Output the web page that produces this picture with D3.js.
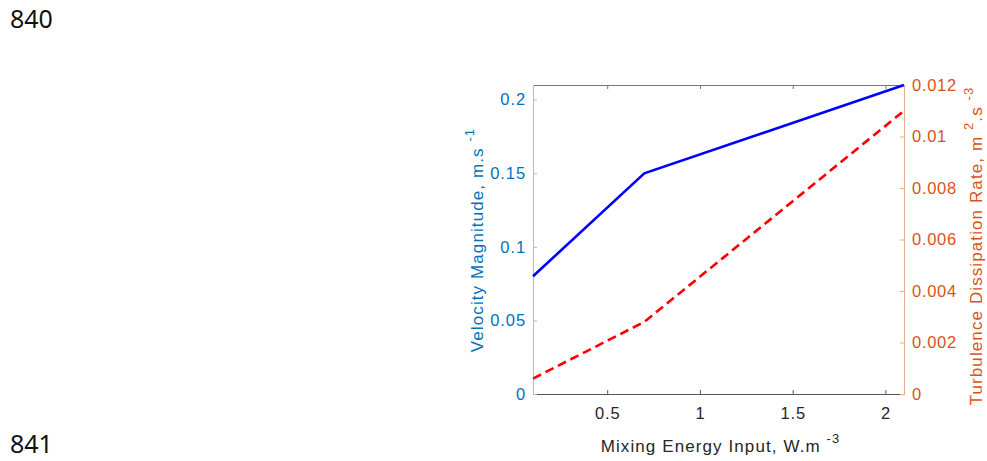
<!DOCTYPE html>
<html>
<head>
    <title></title>
    <meta charset="utf-8">
    <style>
        body { margin: 0; background: #fff; }
        text { font-family: Arial, 'Liberation Sans', sans-serif; }
    </style>
</head>
<body>
<script src="https://d3js.org/d3.v7.min.js"></script>
<script>
    // values
    var energy = [0.1, 0.7, 2.1];
    var velocity = [0.08, 0.15, 0.21];
    var dissipation = [0.0006, 0.0028, 0.011];

    var xTicks = [0.5, 1, 1.5, 2];
    var leftTicks = [0, 0.05, 0.1, 0.15, 0.2];
    var rightTicks = [0, 0.002, 0.004, 0.006, 0.008, 0.01, 0.012];
    var pageNumbers = ['840', '841'];

    var W = 987, H = 461;
    var box = { left: 533, right: 904, top: 85, bottom: 394 };

    var blue = '#0072BD', orange = '#D95319';

    var svg = d3.select('body').append('svg')
        .attr('width', W)
        .attr('height', H);

    var x = d3.scaleLinear().domain([0.1, 2.1]).range([box.left, box.right]);
    var yL = d3.scaleLinear().domain([0, 0.21]).range([box.bottom, box.top]);
    var yR = d3.scaleLinear().domain([0, 0.012]).range([box.bottom, box.top]);

    // page line numbers
    svg.append('text')
        .attr('x', 10).attr('y', 28)
        .style('font-family', "'Noto Sans', sans-serif")
        .style('font-size', '25px')
        .attr('fill', '#111')
        .text(pageNumbers[0]);
    svg.append('text')
        .attr('x', 10).attr('y', 453)
        .style('font-family', "'Noto Sans', sans-serif")
        .style('font-size', '25px')
        .attr('fill', '#111')
        .text(pageNumbers[1]);

    // axes
    var fmt = function (d) { return String(d); };

    var gx = svg.append('g')
        .attr('transform', 'translate(0,' + box.bottom + ')')
        .call(d3.axisBottom(x).tickValues(xTicks).tickFormat(fmt).tickSizeInner(-4).tickSizeOuter(0).tickPadding(13));
    gx.select('.domain').attr('stroke', '#555');
    gx.selectAll('.tick line').attr('stroke', '#555');
    gx.selectAll('.tick text').attr('fill', '#262626')
        .style('font-size', '16.5px').style('letter-spacing', '0.9px');

    var gtop = svg.append('g')
        .attr('transform', 'translate(0,' + box.top + ')')
        .call(d3.axisTop(x).tickValues(xTicks).tickFormat('').tickSizeInner(-4).tickSizeOuter(0));
    gtop.select('.domain').attr('stroke', '#777');
    gtop.selectAll('.tick line').attr('stroke', '#777');

    var gl = svg.append('g')
        .attr('transform', 'translate(' + box.left + ',0)')
        .call(d3.axisLeft(yL).tickValues(leftTicks).tickFormat(fmt).tickSizeInner(-4).tickSizeOuter(0).tickPadding(7));
    gl.select('.domain').attr('stroke', '#9cc3e3');
    gl.selectAll('.tick line').attr('stroke', '#9cc3e3');
    gl.selectAll('.tick text').attr('fill', blue)
        .style('font-size', '16.5px').style('letter-spacing', '0.9px');

    var gr = svg.append('g')
        .attr('transform', 'translate(' + box.right + ',0)')
        .call(d3.axisRight(yR).tickValues(rightTicks).tickFormat(fmt).tickSizeInner(-4).tickSizeOuter(0).tickPadding(8));
    gr.select('.domain').attr('stroke', '#e8ad8c');
    gr.selectAll('.tick line').attr('stroke', '#e8ad8c');
    gr.selectAll('.tick text').attr('fill', orange)
        .style('font-size', '16.5px').style('letter-spacing', '0.7px');

    // lines
    var lineL = d3.line()
        .x(function (d, i) { return x(energy[i]); })
        .y(function (d) { return yL(d); });
    var lineR = d3.line()
        .x(function (d, i) { return x(energy[i]); })
        .y(function (d) { return yR(d); });

    svg.append('path')
        .datum(dissipation)
        .attr('d', lineR)
        .attr('fill', 'none')
        .attr('stroke', '#ff0000')
        .attr('stroke-width', 2.6)
        .attr('stroke-dasharray', '9,5');

    svg.append('path')
        .datum(velocity)
        .attr('d', lineL)
        .attr('fill', 'none')
        .attr('stroke', '#0000ff')
        .attr('stroke-width', 2.6);

    // axis labels
    var xl = svg.append('text')
        .attr('x', (box.left + box.right) / 2 + 2)
        .attr('y', 452)
        .attr('text-anchor', 'middle')
        .attr('fill', '#262626')
        .style('font-size', '17px')
        .style('letter-spacing', '1.1px');
    xl.append('tspan').text('Mixing Energy Input, W.m ');
    xl.append('tspan').attr('dy', -9).style('font-size', '13px').text('-3');

    var ll = svg.append('text')
        .attr('transform', 'translate(483,240) rotate(-90)')
        .attr('text-anchor', 'middle')
        .attr('fill', blue)
        .style('font-size', '17px')
        .style('letter-spacing', '1.1px');
    ll.append('tspan').text('Velocity Magnitude, m.s ');
    ll.append('tspan').attr('dy', -9).style('font-size', '13px').text('-1');

    var rl = svg.append('text')
        .attr('transform', 'translate(982,246) rotate(-90)')
        .attr('text-anchor', 'middle')
        .attr('fill', orange)
        .style('font-size', '17px')
        .style('letter-spacing', '1.1px');
    rl.append('tspan').text('Turbulence Dissipation Rate, m ');
    rl.append('tspan').attr('dy', -9).style('font-size', '13px').text('2');
    rl.append('tspan').attr('dy', 9).text('.s ');
    rl.append('tspan').attr('dy', -9).style('font-size', '13px').text('-3');
</script>
</body>
</html>
